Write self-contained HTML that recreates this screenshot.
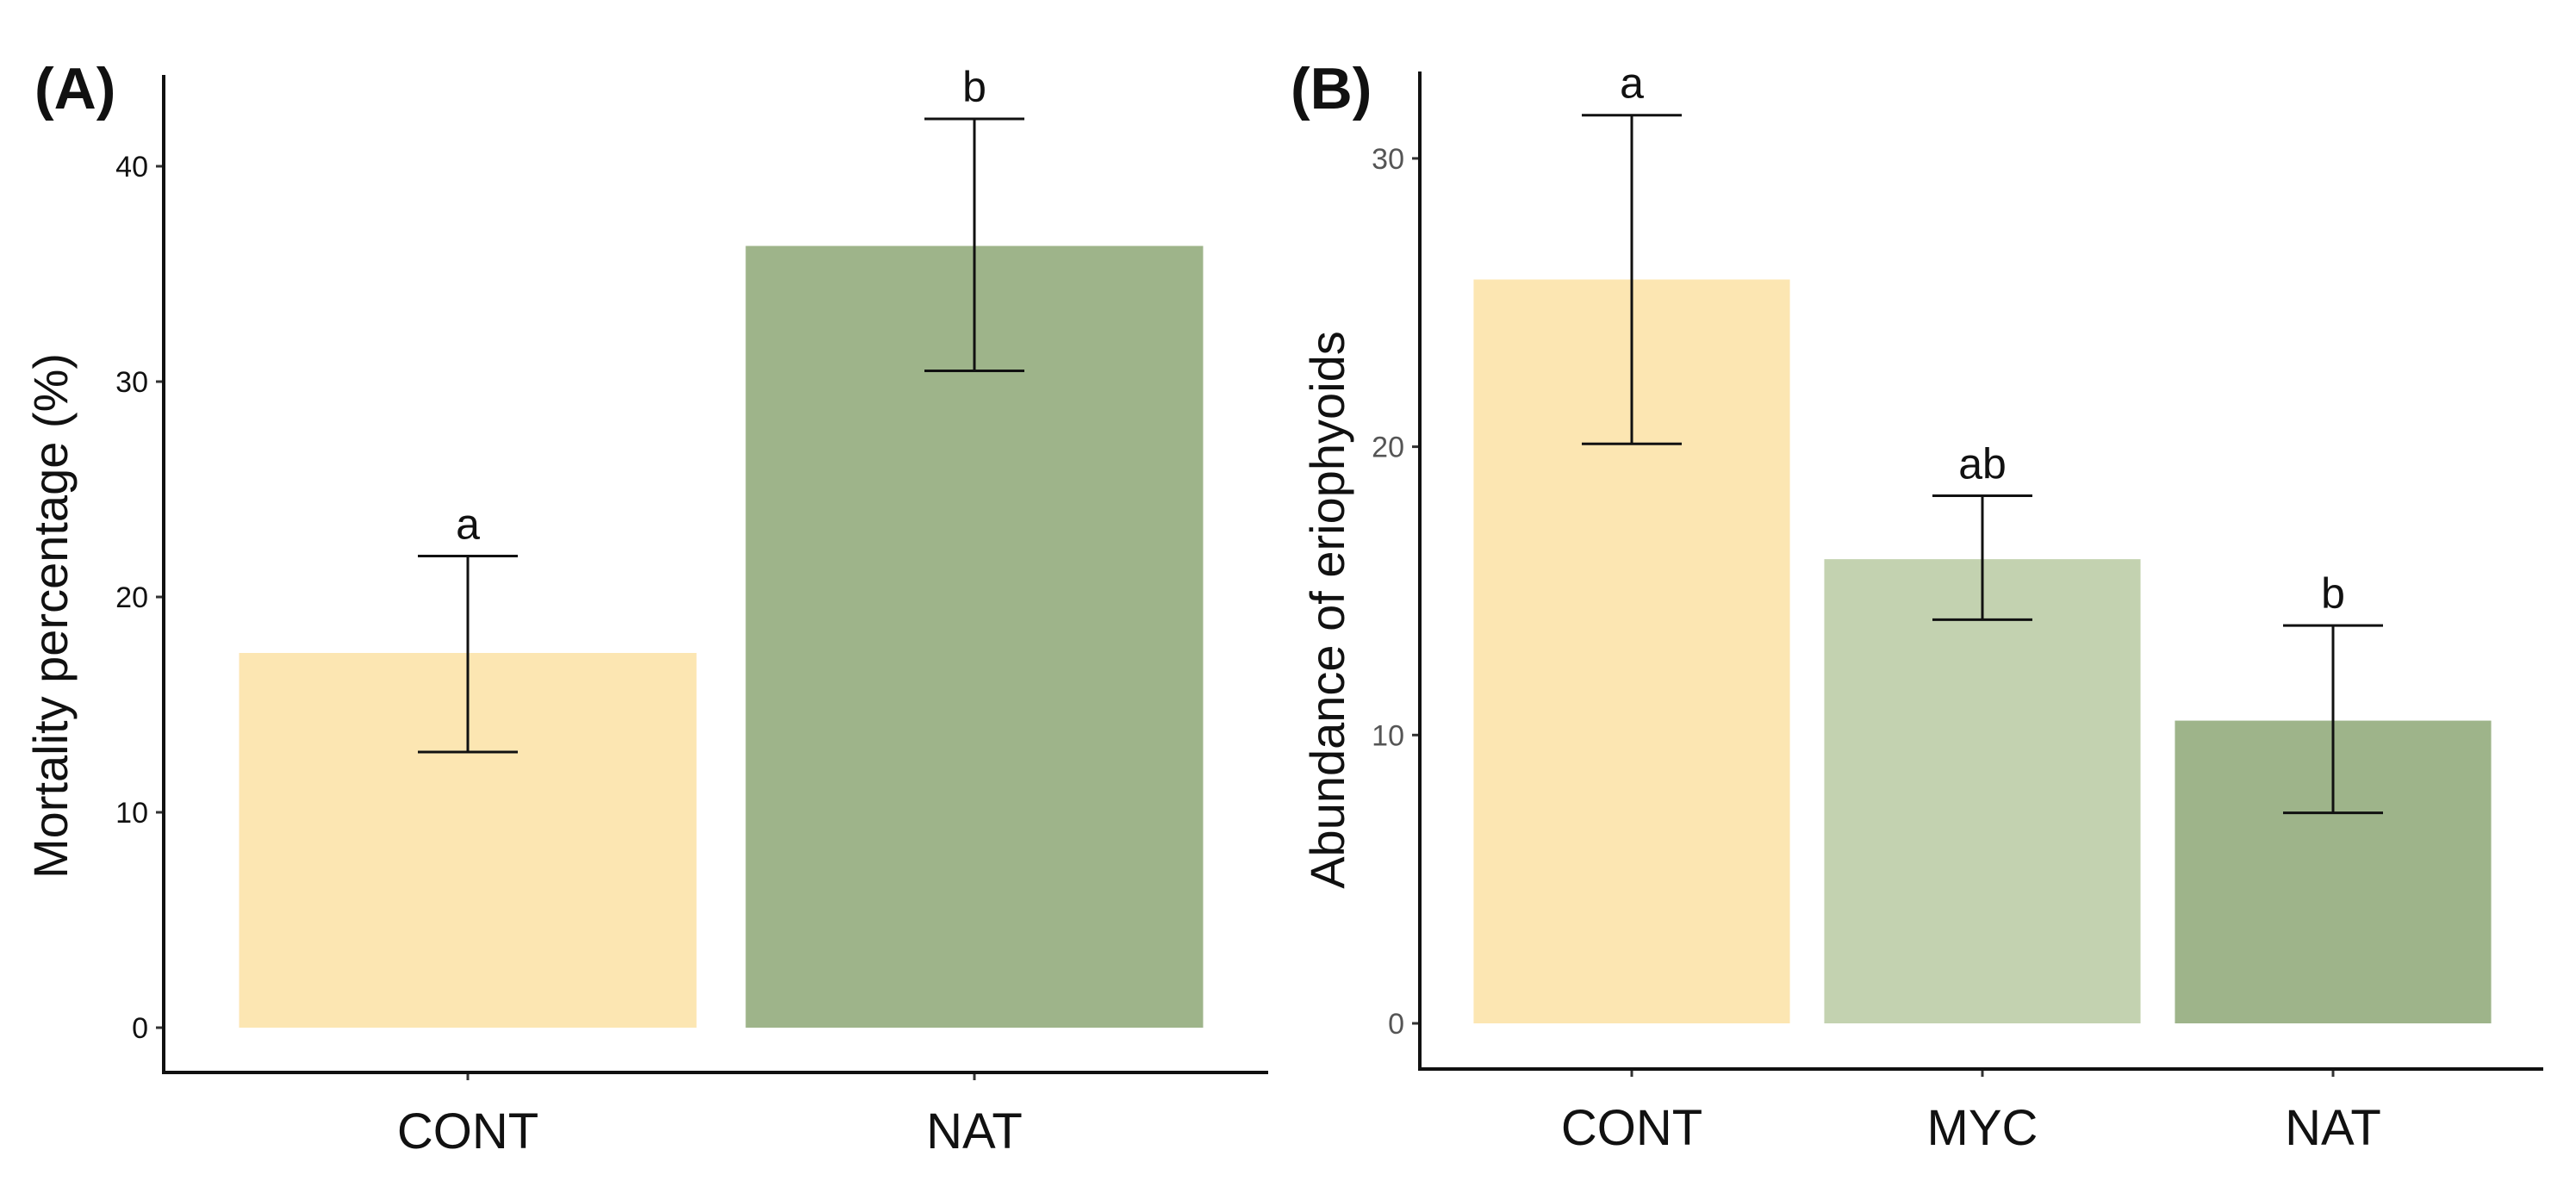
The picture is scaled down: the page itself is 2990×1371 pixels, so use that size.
<!DOCTYPE html>
<html><head><meta charset="utf-8"><style>
html,body{margin:0;padding:0;background:#fff;}
svg{display:block;font-family:"Liberation Sans",sans-serif;}
</style></head><body>
<svg id="chart" width="2990" height="1371" viewBox="0 0 2990 1371"></svg>
<script>
const catsA = ["CONT","NAT"];
const meansA = [17.4, 36.3];
const lowA = [12.8, 30.5];
const highA = [21.9, 42.2];
const lettersA = ["a","b"];
const ticksA = [0,10,20,30,40];

const catsB = ["CONT","MYC","NAT"];
const meansB = [25.8, 16.1, 10.5];
const lowB = [20.1, 14.0, 7.3];
const highB = [31.5, 18.3, 13.8];
const lettersB = ["a","ab","b"];
const ticksB = [0,10,20,30];

const colors = {CONT:"#FCE6B2", MYC:"#C3D2B0", NAT:"#9EB48A"};
const svg = document.getElementById('chart');
const NS = "http://www.w3.org/2000/svg";
function mk(tag, attrs, parent){const e=document.createElementNS(NS,tag);for(const k in attrs)e.setAttribute(k,attrs[k]);(parent||svg).appendChild(e);return e;}

function panel(cfg){
  const g = mk('g',{});
  
  
  const y = v => cfg.y0 - v*cfg.pxPerUnit;
  const cx = i => cfg.plotL + cfg.step*(i+0.5);
  const bw = cfg.step*cfg.barFrac;
  cfg.cats.forEach((c,i)=>{
    const r = mk('rect',{x:cx(i)-bw/2,y:y(cfg.means[i]),width:bw,height:y(0)-y(cfg.means[i]),fill:colors[c]},g);
    
    
    const eg = mk('g',{stroke:'#111','stroke-width':3,fill:'none'},g);
    
    
    mk('line',{x1:cx(i),x2:cx(i),y1:y(cfg.high[i]),y2:y(cfg.low[i])},eg);
    mk('line',{x1:cx(i)-58,x2:cx(i)+58,y1:y(cfg.high[i]),y2:y(cfg.high[i])},eg);
    mk('line',{x1:cx(i)-58,x2:cx(i)+58,y1:y(cfg.low[i]),y2:y(cfg.low[i])},eg);
    const t = mk('text',{x:cx(i),y:y(cfg.high[i])-20,'text-anchor':'middle','font-size':50,fill:'#111'},g);
    t.textContent = cfg.letters[i];
    
    
    mk('line',{x1:cx(i),x2:cx(i),y1:cfg.xAxisY,y2:cfg.xAxisY+9,stroke:'#333','stroke-width':3},g);
    const xl = mk('text',{x:cx(i),y:cfg.xAxisY+88,'text-anchor':'middle','font-size':58,fill:'#111'},g);
    xl.textContent = c;
    
    
  });
  cfg.ticks.forEach(v=>{
    mk('line',{x1:cfg.axisX-9,x2:cfg.axisX,y1:y(v),y2:y(v),stroke:'#333','stroke-width':3},g);
    const tl = mk('text',{x:cfg.axisX-18,y:y(v)+12,'text-anchor':'end','font-size':34,fill:cfg.tickColor},g);
    tl.textContent = v;
    
    
  });
  const ax = mk('path',{d:`M${cfg.axisX} ${cfg.axisTop} V${cfg.xAxisY} H${cfg.xEnd}`,stroke:'#111','stroke-width':4,fill:'none'},g);
  
  
  const yt = mk('text',{x:cfg.titleX,y:cfg.titleY,'text-anchor':'middle','font-size':56,fill:'#111',transform:`rotate(-90 ${cfg.titleX} ${cfg.titleY})`},g);
  yt.textContent = cfg.yTitle;
  
  
  const pl = mk('text',{x:cfg.labelX,y:126,'font-size':68,'font-weight':'bold',fill:'#111'},g);
  pl.textContent = cfg.label;
  
  
}

panel({name:'panel-a',cats:catsA,means:meansA,low:lowA,high:highA,letters:lettersA,ticks:ticksA,
  y0:1193,pxPerUnit:25.0,axisX:190,axisTop:87,xAxisY:1245,plotL:249,step:588,xEnd:1472,barFrac:0.903,
  tickColor:'#111',titleX:78,titleY:715,yTitle:'Mortality percentage (%)',label:'(A)',labelX:40});
panel({name:'panel-b',cats:catsB,means:meansB,low:lowB,high:highB,letters:lettersB,ticks:ticksB,
  y0:1188,pxPerUnit:33.47,axisX:1648,axisTop:83,xAxisY:1241,plotL:1690.5,step:407,xEnd:2952,barFrac:0.902,
  tickColor:'#555',titleX:1560,titleY:708,yTitle:'Abundance of eriophyoids',label:'(B)',labelX:1498});
</script>
</body></html>
